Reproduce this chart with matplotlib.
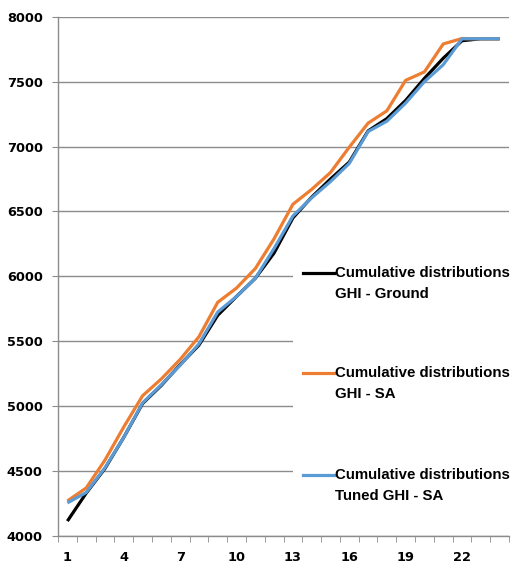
import matplotlib
matplotlib.use('Agg')  # headless
import matplotlib.pyplot as plt
from matplotlib.lines import Line2D
from matplotlib.patches import Rectangle

# hours 1..24
hours = list(range(1, 25))
ground = [4115, 4330, 4520, 4760, 5020, 5160, 5320, 5470, 5700, 5845, 5985, 6180,
          6450, 6610, 6750, 6880, 7120, 7215, 7355, 7525, 7680, 7815, 7830, 7830]
sa = [4270, 4370, 4585, 4840, 5080, 5210, 5360, 5535, 5800, 5910, 6060, 6290,
      6555, 6670, 6800, 6995, 7180, 7275, 7510, 7575, 7790, 7832, 7830, 7830]
tuned = [4255, 4335, 4525, 4760, 5025, 5165, 5315, 5480, 5725, 5845, 5985, 6215,
         6465, 6605, 6730, 6870, 7115, 7195, 7335, 7500, 7630, 7830, 7830, 7830]

labels = [("Cumulative distributions", "GHI - Ground"),
          ("Cumulative distributions", "GHI - SA"),
          ("Cumulative distributions", "Tuned GHI - SA")]
colors = ['#000000', '#ED7D31', '#5B9BD5']
xtick_vals = [1, 4, 7, 10, 13, 16, 19, 22]
ytick_vals = [4000, 4500, 5000, 5500, 6000, 6500, 7000, 7500, 8000]

W, H = 513, 565
fig = plt.figure(figsize=(W / 100, H / 100), dpi=100)
ax = fig.add_axes([58 / W, 1 - 536 / H, (509 - 58) / W, (536 - 16.7) / H])

for series, c in zip([ground, sa, tuned], colors):
    ax.plot(hours, series, color=c, lw=2.3, zorder=3, solid_capstyle='butt')

ax.set_xlim(0.5, 24.5)
ax.set_ylim(4000, 8000)
ax.set_yticks(ytick_vals)
ax.set_xticks(xtick_vals)
ax.set_xticks([i + 0.5 for i in range(0, 25)], minor=True)
ax.set_axisbelow(True)
ax.grid(axis='y', color='#8c8c8c', lw=1)

for s in ['top', 'right']:
    ax.spines[s].set_visible(False)
for s in ['left', 'bottom']:
    ax.spines[s].set_color('#8c8c8c')
    ax.spines[s].set_linewidth(1)

ax.tick_params(axis='y', length=4, color='#8c8c8c', pad=7)
ax.tick_params(axis='x', which='major', length=0, pad=11)
ax.tick_params(axis='x', which='minor', length=4, color='#8c8c8c')
for lab in ax.get_xticklabels() + ax.get_yticklabels():
    lab.set_fontsize(9.3)
    lab.set_fontweight('bold')

# legend drawn by hand so the swatch sits on the first text line
ax.add_patch(Rectangle((293 / W, 1 - 505 / H), (W - 293) / W, (505 - 262) / H,
                       transform=fig.transFigure, facecolor='white',
                       edgecolor='none', zorder=2, clip_on=False))
for (l1, l2), c, y in zip(labels, colors, [273, 373, 475]):
    fig.add_artist(Line2D([303 / W, 334 / W], [1 - y / H, 1 - y / H],
                          color=c, lw=2.3, transform=fig.transFigure))
    fig.text(335 / W, 1 - y / H, l1, va='center', ha='left', fontsize=10.8,
             fontweight='bold', family='Liberation Sans')
    fig.text(335 / W, 1 - (y + 21) / H, l2, va='center', ha='left', fontsize=10.8,
             fontweight='bold', family='Liberation Sans')

fig.savefig('out.png', dpi=100)
